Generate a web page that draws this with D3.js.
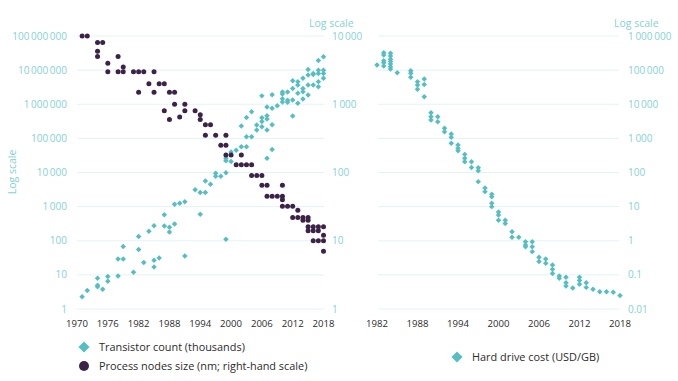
<!DOCTYPE html>
<html><head><meta charset="utf-8">
<script src="https://cdn.jsdelivr.net/npm/d3@7"></script>
<style>
html,body{margin:0;padding:0;background:#fff;}
svg{display:block;font-family:"Open Sans",sans-serif;}
</style></head>
<body><svg id="c" width="678" height="381"></svg>
<script>
// ---------- DATA ----------
const leftXTicks = [1970,1976,1982,1988,1994,2000,2006,2012,2018];
const rightXTicks = [1982,1988,1994,2000,2006,2012,2018];
const transistorTicks = [1,10,100,1000,10000,100000,1000000,10000000,100000000];
const nodeTicks = [1,10,100,1000,10000];
const hddTicks = [0.01,0.1,1,10,100,1000,10000,100000,1000000];

// Transistor count (thousands)
const transistorYears = [1971,1972,1974,1974,1974,1975,1976,1976,1978,1978,1979,1979,1981,1982,1982,1983,1984,1985,1985,1985,1986,1987,1987,1988,1988,1989,1989,1990,1991,1991,1993,1994,1994,1995,1995,1996,1997,1997,1998,1999,1999,1999,1999,2000,2000,2001,2002,2002,2003,2003,2003,2004,2004,2005,2005,2006,2006,2006,2006,2007,2007,2007,2007,2007,2008,2008,2008,2008,2009,2010,2010,2010,2010,2011,2011,2011,2012,2012,2012,2012,2013,2013,2013,2013,2014,2014,2014,2014,2015,2015,2015,2015,2016,2016,2016,2017,2017,2017,2017,2017,2018,2018,2018,2018];
const transistorCounts = [2.3,3.5,8,5,4.5,3.8,9,6.5,9.3,29,29,68,12,134,55,23,190,275,27,17,31,580,270,250,180,1180,310,1250,1400,36,3100,2600,600,5600,2600,4500,9500,7800,7800,9800,26000,22000,110,21000,40000,45000,57000,230000,57000,112000,410000,112000,600000,245000,176000,1760000,400000,310000,220000,830000,460000,370000,176000,26000,1900000,760000,250000,47000,900000,2300000,2000000,1450000,1170000,2300000,1300000,1150000,4900000,2900000,1330000,455000,4600000,3650000,2100000,1070000,5750000,2900000,2330000,1420000,10500000,7200000,3650000,1860000,8000000,7500000,3650000,19000000,10000000,8000000,4600000,3250000,24700000,10000000,8000000,5750000];

// Process node size (nm)
const nodeYears = [1971,1972,1974,1974,1974,1975,1976,1976,1978,1978,1979,1979,1981,1982,1982,1983,1984,1985,1985,1986,1987,1987,1988,1988,1989,1989,1990,1991,1991,1993,1994,1994,1995,1995,1996,1997,1998,1999,1999,1999,2000,2001,2002,2002,2003,2004,2004,2005,2006,2006,2007,2007,2008,2009,2010,2010,2010,2010,2011,2012,2012,2013,2013,2014,2014,2015,2015,2015,2015,2016,2016,2016,2017,2017,2017,2018,2018,2018,2018];
const nodeSizes = [10000,10000,8000,6000,5000,8000,4000,3000,5000,3000,3500,3000,3000,3000,1500,3000,2000,3000,1500,2000,2000,800,1500,600,1500,1000,650,1000,800,800,700,600,500,350,500,350,250,350,250,180,180,130,180,130,130,130,90,90,90,65,65,45,45,45,65,45,40,32,32,32,22,28,22,22,20,22,20,16,14,16,14,10,16,14,10,16,12,10,7];

// Hard drive cost (USD/GB)
const hddYears = [1982,1983,1983,1983,1983,1983,1984,1984,1984,1984,1984,1984,1984,1985,1987,1987,1987,1988,1988,1988,1989,1989,1989,1990,1990,1990,1991,1991,1992,1992,1993,1993,1993,1994,1994,1994,1995,1995,1995,1996,1996,1997,1997,1997,1998,1998,1999,1999,1999,1999,2000,2000,2000,2001,2001,2002,2002,2003,2004,2004,2004,2005,2005,2005,2006,2006,2007,2007,2008,2008,2008,2009,2009,2010,2010,2010,2011,2012,2012,2012,2013,2013,2014,2015,2016,2017,2018];
const hddCosts = [141000,324000,277000,189000,165000,132000,310000,258000,209000,178000,152000,126000,107000,84000,96000,81000,62000,46000,36600,27500,55000,38000,16600,5600,4300,3450,4300,3060,1970,1570,1350,1070,720,640,515,435,340,260,205,205,140,137,112,54,35,27.5,23,19.5,12.6,10,7,5.7,4,4,3.2,1.84,1.26,1.26,0.93,0.75,0.67,0.93,0.67,0.48,0.33,0.245,0.29,0.22,0.195,0.145,0.11,0.093,0.079,0.085,0.059,0.047,0.041,0.085,0.068,0.053,0.059,0.043,0.038,0.032,0.032,0.031,0.025];

// ---------- STYLE ----------
const TEAL = "#55bec0", PURPLE = "#3b2347", LABEL = "#86d2d3", GRID = "#e3f3f5", TXT = "#2b2b2b";

const svg = d3.select("#c");
const fmt = d3.formatLocale({decimal:".", thousands:"\u2009", grouping:[3], currency:["",""]});
const fInt = fmt.format(",d");
const fHdd = v => v < 1 ? String(v) : fInt(v);

// ---------- SCALES ----------
const xL = d3.scaleLinear().domain([1970,2018]).range([77,323.5]);
const yT = d3.scaleLog().domain([1,1e8]).range([309,36]);
const yN = d3.scaleLog().domain([1,1e4]).range([309,36]);
const xH = d3.scaleLinear().domain([1982,2018]).range([377,620]);
const yH = d3.scaleLog().domain([0.01,1e6]).range([309,36]);

// ---------- LEFT CHART ----------
const gl = svg.append("g");
gl.selectAll("line.g").data(transistorTicks).join("line")
  .attr("x1",77).attr("x2",324).attr("y1",d=>yT(d)).attr("y2",d=>yT(d))
  .attr("stroke",GRID).attr("stroke-width",1);
gl.selectAll("text.yl").data(transistorTicks).join("text")
  .attr("x",67).attr("y",d=>yT(d)).attr("dy","0.35em").attr("text-anchor","end")
  .attr("font-size",10).attr("fill",LABEL).text(d=>fInt(d));
gl.selectAll("text.yr").data(nodeTicks).join("text")
  .attr("x",332).attr("y",d=>yN(d)).attr("dy","0.35em").attr("text-anchor","start")
  .attr("font-size",10).attr("fill",LABEL).text(d=>fInt(d));
gl.selectAll("text.x").data(leftXTicks).join("text")
  .attr("x",d=>xL(d)).attr("y",324).attr("dy","0.35em").attr("text-anchor","middle")
  .attr("font-size",9.6).attr("fill",TXT).text(d=>d);
gl.append("text").attr("transform","translate(16,172) rotate(-90)")
  .attr("text-anchor","middle").attr("font-size",10.5).attr("fill",LABEL).text("Log scale");
gl.append("text").attr("x",309).attr("y",23).attr("dy","0.35em")
  .attr("font-size",10.5).attr("fill",LABEL).text("Log scale");

const diamond = d3.symbol().type(d3.symbolSquare).size(15);
gl.selectAll("path.t").data(transistorYears.map((y,i)=>[y,transistorCounts[i]])).join("path")
  .attr("d",diamond).attr("fill",TEAL)
  .attr("transform",d=>`translate(${xL(d[0])},${yT(d[1])}) rotate(45)`);
gl.selectAll("circle.n").data(nodeYears.map((y,i)=>[y,nodeSizes[i]])).join("circle")
  .attr("cx",d=>xL(d[0])).attr("cy",d=>yN(d[1])).attr("r",2.5).attr("fill",PURPLE);

// ---------- RIGHT CHART ----------
const gr = svg.append("g");
gr.selectAll("line").data(hddTicks).join("line")
  .attr("x1",378).attr("x2",619).attr("y1",d=>yH(d)).attr("y2",d=>yH(d))
  .attr("stroke",GRID).attr("stroke-width",1);
gr.selectAll("text.yr").data(hddTicks).join("text")
  .attr("x",628).attr("y",d=>yH(d)).attr("dy","0.35em").attr("text-anchor","start")
  .attr("font-size",10).attr("fill",LABEL).text(d=>fHdd(d));
gr.selectAll("text.x").data(rightXTicks).join("text")
  .attr("x",d=>xH(d)).attr("y",324).attr("dy","0.35em").attr("text-anchor","middle")
  .attr("font-size",9.6).attr("fill",TXT).text(d=>d);
gr.append("text").attr("x",614).attr("y",23).attr("dy","0.35em")
  .attr("font-size",10.5).attr("fill",LABEL).text("Log scale");
gr.selectAll("path.h").data(hddYears.map((y,i)=>[y,hddCosts[i]])).join("path")
  .attr("d",diamond).attr("fill",TEAL)
  .attr("transform",d=>`translate(${xH(d[0])},${yH(d[1])}) rotate(45)`);

// ---------- LEGENDS ----------
const bigDiamond = d3.symbol().type(d3.symbolSquare).size(62);
const lg = svg.append("g");
lg.append("path").attr("d",bigDiamond).attr("fill",TEAL).attr("transform","translate(84,347) rotate(45)");
lg.append("text").attr("x",99).attr("y",347).attr("dy","0.35em").attr("font-size",10.9).attr("fill",TXT).text("Transistor count (thousands)");
lg.append("circle").attr("cx",84).attr("cy",366).attr("r",5).attr("fill",PURPLE);
lg.append("text").attr("x",99).attr("y",366).attr("dy","0.35em").attr("font-size",10.9).attr("fill",TXT).text("Process nodes size (nm; right-hand scale)");
lg.append("path").attr("d",bigDiamond).attr("fill",TEAL).attr("transform","translate(457,357) rotate(45)");
lg.append("text").attr("x",472).attr("y",357).attr("dy","0.35em").attr("font-size",10.9).attr("fill",TXT).text("Hard drive cost (USD/GB)");
</script></body></html>
